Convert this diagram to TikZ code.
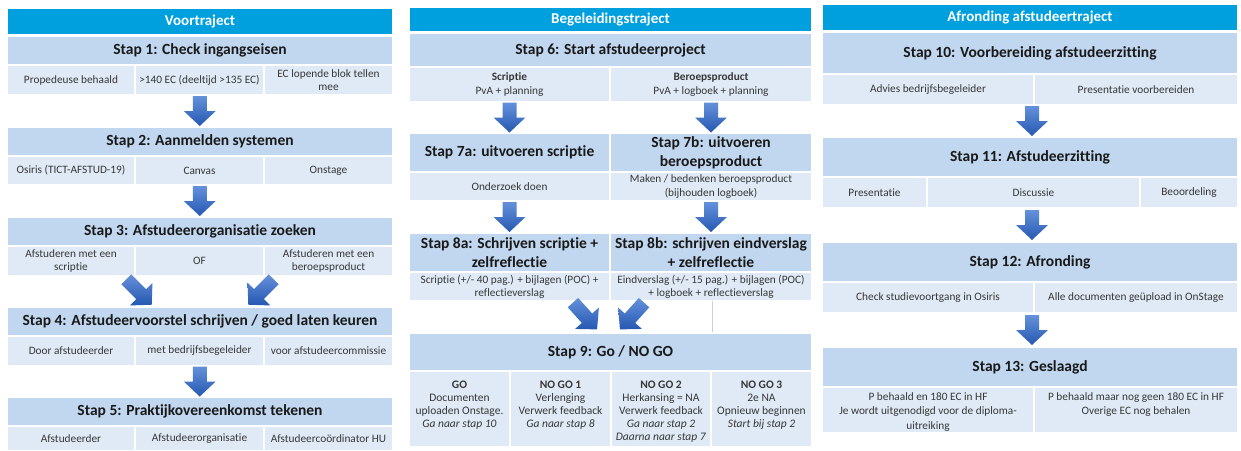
\documentclass[tikz,border=0pt]{standalone}
\usepackage{fontspec}
\setmainfont{Carlito}[Ligatures=NoCommon]
\usetikzlibrary{calc}
\definecolor{hdr}{RGB}{0,160,222}
\definecolor{band}{RGB}{192,215,239}
\definecolor{subc}{RGB}{223,234,246}
\definecolor{arrtop}{RGB}{100,145,218}
\definecolor{arrbot}{RGB}{38,88,178}
\definecolor{txt}{RGB}{25,25,25}
\definecolor{subtxt}{RGB}{55,55,55}
\newcommand\cell[7]{\node[#6, minimum width={#4-#2}, minimum height={#5-#3}] (#1) at ({(#2+#4)/2},{(#3+#5)/2}) {#7};}
\newcommand\barrow[4]{% name, position, angle, length
  \coordinate (#1) at #2;
  \begin{scope}[shift={(#1)}, rotate=#3]
    \shade[top color=arrtop, bottom color=arrbot] (-7,{-#4/2}) -- (7,{-#4/2}) -- (7,{#4/2-15}) -- (16,{#4/2-15}) -- (0,{#4/2}) -- (-16,{#4/2-15}) -- (-7,{#4/2-15}) -- cycle;
  \end{scope}}
\tikzset{
  cellbase/.style={draw=white, line width=1.2pt, inner sep=1pt, outer sep=0pt, align=center},
  hdrS/.style={cellbase, fill=hdr, text=white, font=\fontsize{15}{18}\selectfont\bfseries},
  bandS/.style={cellbase, fill=band, text=txt, font=\fontsize{15.5}{19}\selectfont\bfseries},
  subS/.style={cellbase, fill=subc, text=subtxt, font=\fontsize{11.3}{13.2}\selectfont},
  txtS/.style={text=subtxt, font=\fontsize{11.5}{12.9}\selectfont, align=center, anchor=north, inner sep=0pt},
}
\begin{document}
\begin{tikzpicture}[x=1pt,y=-1pt]
\useasboundingbox[fill=white] (0,0) rectangle (1241,450);
% ---------- Column 1 ----------
\cell{h1}{7}{8}{393}{35}{hdrS}{Voortraject}
\cell{s1}{7}{36}{393}{65}{bandS}{Stap 1: Check ingangseisen}
\cell{s1a}{7}{65}{135}{95}{subS}{Propedeuse behaald}
\cell{s1b}{135}{65}{264}{95}{subS}{>140 EC (deeltijd >135 EC)}
\cell{s1c}{264}{65}{393}{95}{subS}{EC lopende blok tellen\\mee}
\cell{s2}{7}{127}{393}{156}{bandS}{Stap 2: Aanmelden systemen}
\cell{s2a}{7}{156}{135}{185}{subS}{Osiris (TICT-AFSTUD-19)}
\cell{s2b}{135}{156}{264}{185}{subS}{Canvas}
\cell{s2c}{264}{156}{393}{185}{subS}{Onstage}
\cell{s3}{7}{217}{393}{246}{bandS}{Stap 3: Afstudeerorganisatie zoeken}
\cell{s3a}{7}{246}{135}{276}{subS}{Afstuderen met een\\scriptie}
\cell{s3b}{135}{246}{264}{276}{subS}{OF}
\cell{s3c}{264}{246}{393}{276}{subS}{Afstuderen met een\\beroepsproduct}
\cell{s4}{7}{307}{393}{336}{bandS}{Stap 4: Afstudeervoorstel schrijven / goed laten keuren}
\cell{s4a}{7}{336}{135}{366}{subS}{Door afstudeerder}
\cell{s4b}{135}{336}{264}{366}{subS}{met bedrijfsbegeleider}
\cell{s4c}{264}{336}{393}{366}{subS}{voor afstudeercommissie}
\cell{s5}{7}{397}{393}{426}{bandS}{Stap 5: Praktijkovereenkomst tekenen}
\cell{s5a}{7}{426}{135}{451}{subS}{Afstudeerder}
\cell{s5b}{135}{426}{264}{451}{subS}{Afstudeerorganisatie}
\cell{s5c}{264}{426}{393}{451}{subS}{Afstudeercoördinator HU}
\barrow{a1}{($(s1b.south)!0.5!(s2.north)$)}{0}{30}
\barrow{a2}{($(s2b.south)!0.5!(s3.north)$)}{0}{30}
\barrow{a3l}{(139,292)}{45}{36}
\barrow{a3r}{(261,292)}{-45}{36}
\barrow{a4}{($(s4b.south)!0.5!(s5.north)$)}{0}{30}
% ---------- Column 2 ----------
\cell{h2}{409}{7}{812}{32}{hdrS}{Begeleidingstraject}
\cell{s6}{409}{33}{812}{67}{bandS}{Stap 6: Start afstudeerproject}
\cell{s6a}{409}{67}{610}{102}{subS}{\textbf{Scriptie}\\PvA + planning}
\cell{s6b}{610}{67}{812}{102}{subS}{\textbf{Beroepsproduct}\\PvA + logboek + planning}
\cell{s7a}{409}{133}{610}{172}{bandS}{Stap 7a: uitvoeren scriptie}
\cell{s7b}{610}{133}{812}{172}{bandS}{Stap 7b: uitvoeren\\beroepsproduct}
\cell{s7as}{409}{172}{610}{201}{subS}{Onderzoek doen}
\cell{s7bs}{610}{172}{812}{201}{subS}{Maken / bedenken beroepsproduct\\(bijhouden logboek)}
\cell{s8a}{409}{233}{610}{272}{bandS}{Stap 8a: Schrijven scriptie +\\zelfreflectie}
\cell{s8b}{610}{233}{812}{272}{bandS}{Stap 8b: schrijven eindverslag\\+ zelfreflectie}
\cell{s8as}{409}{272}{610}{301}{subS}{Scriptie (+/- 40 pag.) + bijlagen (POC) +\\reflectieverslag}
\cell{s8bs}{610}{272}{812}{301}{subS}{Eindverslag (+/- 15 pag.) + bijlagen (POC)\\+ logboek + reflectieverslag}
\draw[black!18, line width=0.7pt] (s8bs.south -| 712,0) -- (712,333);
\cell{s9}{409}{333}{812}{371}{bandS}{Stap 9: Go / NO GO}
\cell{s9a}{409}{371}{510}{447}{subS}{}
\cell{s9b}{510}{371}{611}{447}{subS}{}
\cell{s9c}{611}{371}{711}{447}{subS}{}
\cell{s9d}{711}{371}{812}{447}{subS}{}
\node[txtS] (t9a) at ([yshift=-10]s9a.north) {\textbf{GO}\\Documenten\\uploaden Onstage.\\\textit{Ga naar stap 10}};
\node[txtS] (t9b) at ([yshift=-10]s9b.north) {\textbf{NO GO 1}\\Verlenging\\Verwerk feedback\\\textit{Ga naar stap 8}};
\node[txtS] (t9c) at ([yshift=-10]s9c.north) {\textbf{NO GO 2}\\Herkansing = NA\\Verwerk feedback\\\textit{Ga naar stap 2}\\\textit{Daarna naar stap 7}};
\node[txtS] (t9d) at ([yshift=-10]s9d.north) {\textbf{NO GO 3}\\2e NA\\Opnieuw beginnen\\\textit{Start bij stap 2}};
\barrow{b1}{($(s6a.south)!0.5!(s7a.north)$)}{0}{30}
\barrow{b2}{($(s6b.south)!0.5!(s7b.north)$)}{0}{30}
\barrow{b3}{($(s7as.south)!0.5!(s8a.north)$)}{0}{30}
\barrow{b4}{($(s7bs.south)!0.5!(s8b.north)$)}{0}{30}
\barrow{b5l}{(585,316)}{42}{36}
\barrow{b5r}{(632,316)}{-42}{36}
% ---------- Column 3 ----------
\cell{h3}{822}{4}{1238}{31}{hdrS}{Afronding afstudeertraject}
\cell{s10}{822}{32}{1238}{74}{bandS}{Stap 10: Voorbereiding afstudeerzitting}
\cell{s10a}{822}{74}{1034}{105}{subS}{Advies bedrijfsbegeleider}
\cell{s10b}{1034}{74}{1238}{105}{subS}{Presentatie voorbereiden}
\cell{s11}{822}{137}{1238}{177}{bandS}{Stap 11: Afstudeerzitting}
\cell{s11a}{822}{177}{927}{208}{subS}{Presentatie}
\cell{s11b}{927}{177}{1140}{208}{subS}{Discussie}
\cell{s11c}{1140}{177}{1238}{208}{subS}{Beoordeling}
\cell{s12}{822}{242}{1238}{282}{bandS}{Stap 12: Afronding}
\cell{s12a}{822}{282}{1034}{313}{subS}{Check studievoortgang in Osiris}
\cell{s12b}{1034}{282}{1238}{313}{subS}{Alle documenten geüpload in OnStage}
\cell{s13}{822}{347}{1238}{387}{bandS}{Stap 13: Geslaagd}
\cell{s13a}{822}{387}{1034}{433}{subS}{}
\cell{s13b}{1034}{387}{1238}{433}{subS}{}
\node[txtS, font=\fontsize{11.3}{14.5}\selectfont] (t13a) at ([yshift=-5]s13a.north) {P behaald en 180 EC in HF\\Je wordt uitgenodigd voor de diploma-\\uitreiking};
\node[txtS, font=\fontsize{11.3}{14.5}\selectfont] (t13b) at ([yshift=-5]s13b.north) {P behaald maar nog geen 180 EC in HF\\Overige EC nog behalen};
\barrow{c1}{(1032,121)}{0}{30}
\barrow{c2}{(1032,225)}{0}{30}
\barrow{c3}{(1032,330)}{0}{30}
\end{tikzpicture}
\end{document}
